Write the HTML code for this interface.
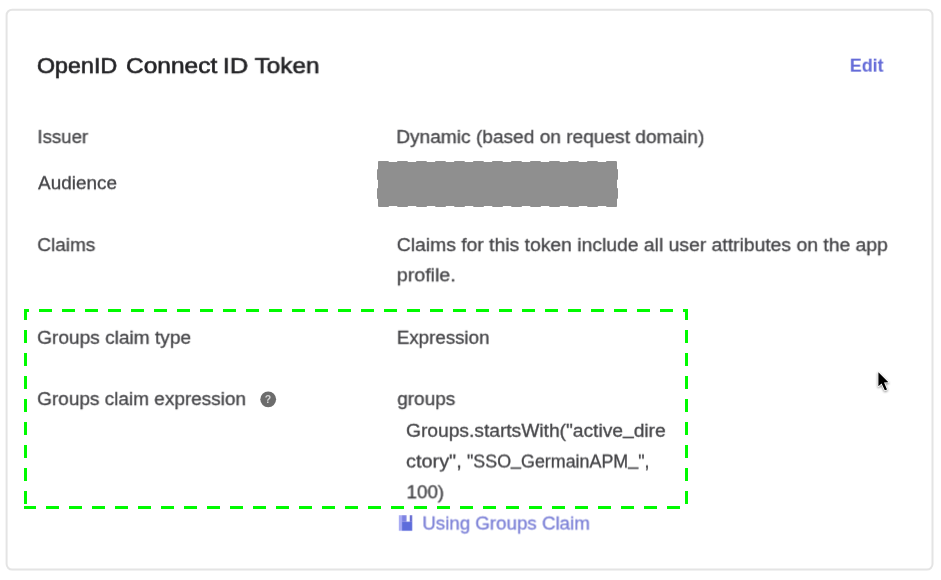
<!DOCTYPE html>
<html><head><meta charset="utf-8"><title>OpenID Connect ID Token</title>
<style>
html,body{margin:0;padding:0;}
body{width:941px;height:580px;background:#fff;overflow:hidden;position:relative;font-family:"Liberation Sans",sans-serif;color:#3a3a3d;}
.t{position:absolute;left:0;top:0;white-space:nowrap;transform-origin:0 0;font-size:17.5px;line-height:20px;}
.b{color:#464649;-webkit-text-stroke:0.3px #464649;filter:blur(0.55px);}
.title{font-size:22px;line-height:26px;color:#232326;-webkit-text-stroke:0.6px #232326;filter:blur(0.5px);}
.link{color:#7c81d7;-webkit-text-stroke:0.3px #7c81d7;filter:blur(0.65px);}
.edit{font-size:18px;font-weight:bold;color:#646bd8;filter:blur(0.5px);}
.us{position:relative;top:-3px;}
svg{position:absolute;left:0;top:0;}
</style></head><body>
<svg width="941" height="580" viewBox="0 0 941 580">
  <rect x="6.6" y="9.7" width="925.9" height="559.9" rx="5.5" ry="5.5" fill="#ffffff" stroke="#e4e4e4" stroke-width="2" style="filter:blur(0.5px)"/>
</svg>
<div class="t title" style="transform:translate(36.94px,53.17px) scaleX(1.0581) rotate(0.01deg);">OpenID</div>
<div class="t title" style="transform:translate(125.99px,53.17px) scaleX(1.1136) rotate(0.01deg);">Connect</div>
<div class="t title" style="transform:translate(222.77px,53.17px) scaleX(1.1632) rotate(0.01deg);">ID</div>
<div class="t title" style="transform:translate(254.70px,53.17px) scaleX(1.1017) rotate(0.01deg);">Token</div>
<div class="t edit" style="transform:translate(849.81px,55.66px) scaleX(0.9939) rotate(0.01deg);">Edit</div>
<div class="t b" style="transform:translate(37.43px,127.13px) scaleX(1.0660) rotate(0.01deg);">Issuer</div>
<div class="t b" style="transform:translate(396.31px,127.13px) scaleX(1.0921) rotate(0.01deg);">Dynamic (based on request domain)</div>
<div class="t b" style="transform:translate(38.00px,173.23px) scaleX(1.0822) rotate(0.01deg);">Audience</div>
<div class="t b" style="transform:translate(37.32px,235.13px) scaleX(1.0846) rotate(0.01deg);">Claims</div>
<div class="t b" style="transform:translate(396.80px,235.13px) scaleX(1.1045) rotate(0.01deg);">Claims for this token include all user attributes on the app</div>
<div class="t b" style="transform:translate(396.78px,265.33px) scaleX(1.1220) rotate(0.01deg);">profile.</div>
<div class="t b" style="transform:translate(37.21px,327.83px) scaleX(1.0914) rotate(0.01deg);">Groups claim type</div>
<div class="t b" style="transform:translate(396.83px,327.83px) scaleX(1.0694) rotate(0.01deg);">Expression</div>
<div class="t b" style="transform:translate(37.22px,389.13px) scaleX(1.0848) rotate(0.01deg);">Groups claim expression</div>
<div class="t b" style="transform:translate(397.30px,389.13px) scaleX(1.0830) rotate(0.01deg);">groups</div>
<div class="t b" style="transform:translate(406.10px,420.83px) scaleX(1.0970) rotate(0.01deg);">Groups.startsWith(&quot;active<span class=us>_</span>dire</div>
<div class="t b" style="transform:translate(406.06px,451.53px) scaleX(1.1362) rotate(0.01deg);">ctory&quot;,</div>
<div class="t b" style="transform:translate(466.98px,451.53px) scaleX(1.0210) rotate(0.01deg);">&quot;SSO<span class=us>_</span>GermainAPM<span class=us>_</span>&quot;,</div>
<div class="t b" style="transform:translate(406.53px,482.33px) scaleX(1.0727) rotate(0.01deg);">100)</div>
<div class="t link" style="transform:translate(422.33px,513.53px) scaleX(1.0697) rotate(0.01deg);">Using Groups Claim</div>
<svg width="941" height="580" viewBox="0 0 941 580">
  <!-- redacted audience value -->
  <rect x="378" y="162" width="239" height="44" fill="#8f8f8f"/>
  <rect x="377.5" y="161.5" width="240" height="45" fill="none" stroke="#8f8f8f" stroke-width="1" stroke-dasharray="10.5 8.5" stroke-dashoffset="-0.7"/>
  <!-- help icon -->
  <g style="filter:blur(0.6px)">
  <circle cx="268.2" cy="399.3" r="7.9" fill="#6c6c6c"/>
  <text x="268" y="403.1" font-family="Liberation Sans, sans-serif" font-size="10.5" font-weight="bold" text-anchor="middle" fill="#d4d4d4">?</text>
  </g>
  <!-- book icon -->
  <g style="filter:blur(0.4px)" transform="rotate(0.01)">
    <rect x="398.9" y="515.2" width="3.3" height="15.5" fill="#a9acf4"/>
    <rect x="402.1" y="521.6" width="10.2" height="9.1" fill="#5d6cdb"/>
    <rect x="402.1" y="515.2" width="4.5" height="6.6" fill="#7d82e2"/>
    <rect x="409.8" y="515.2" width="2.5" height="6.6" fill="#686dd2"/>
  </g>
  <!-- green dashed highlight -->
  <g fill="#00fa00" shape-rendering="crispEdges"><rect x="24" y="309" width="5" height="3"/><rect x="39" y="309" width="13" height="3"/><rect x="62" y="309" width="13" height="3"/><rect x="85" y="309" width="13" height="3"/><rect x="108" y="309" width="13" height="3"/><rect x="131" y="309" width="13" height="3"/><rect x="154" y="309" width="13" height="3"/><rect x="177" y="309" width="13" height="3"/><rect x="200" y="309" width="13" height="3"/><rect x="223" y="309" width="13" height="3"/><rect x="246" y="309" width="13" height="3"/><rect x="269" y="309" width="13" height="3"/><rect x="292" y="309" width="13" height="3"/><rect x="315" y="309" width="13" height="3"/><rect x="338" y="309" width="13" height="3"/><rect x="361" y="309" width="13" height="3"/><rect x="384" y="309" width="13" height="3"/><rect x="407" y="309" width="13" height="3"/><rect x="430" y="309" width="13" height="3"/><rect x="453" y="309" width="13" height="3"/><rect x="476" y="309" width="13" height="3"/><rect x="499" y="309" width="13" height="3"/><rect x="522" y="309" width="13" height="3"/><rect x="545" y="309" width="13" height="3"/><rect x="568" y="309" width="13" height="3"/><rect x="591" y="309" width="13" height="3"/><rect x="614" y="309" width="13" height="3"/><rect x="637" y="309" width="13" height="3"/><rect x="660" y="309" width="13" height="3"/><rect x="683" y="309" width="5" height="3"/><rect x="24" y="309" width="3" height="11"/><rect x="24" y="330" width="3" height="13"/><rect x="24" y="353" width="3" height="13"/><rect x="24" y="376" width="3" height="13"/><rect x="24" y="399" width="3" height="13"/><rect x="24" y="422" width="3" height="13"/><rect x="24" y="445" width="3" height="13"/><rect x="24" y="468" width="3" height="13"/><rect x="24" y="491" width="3" height="13"/><rect x="685" y="309" width="3" height="11"/><rect x="685" y="330" width="3" height="13"/><rect x="685" y="353" width="3" height="13"/><rect x="685" y="376" width="3" height="13"/><rect x="685" y="399" width="3" height="13"/><rect x="685" y="422" width="3" height="13"/><rect x="685" y="445" width="3" height="13"/><rect x="685" y="468" width="3" height="13"/><rect x="685" y="491" width="3" height="13"/><rect x="24" y="506" width="12" height="3"/><rect x="46" y="506" width="13" height="3"/><rect x="69" y="506" width="13" height="3"/><rect x="92" y="506" width="13" height="3"/><rect x="115" y="506" width="13" height="3"/><rect x="138" y="506" width="13" height="3"/><rect x="161" y="506" width="13" height="3"/><rect x="184" y="506" width="13" height="3"/><rect x="207" y="506" width="13" height="3"/><rect x="230" y="506" width="13" height="3"/><rect x="253" y="506" width="13" height="3"/><rect x="276" y="506" width="13" height="3"/><rect x="299" y="506" width="13" height="3"/><rect x="322" y="506" width="13" height="3"/><rect x="345" y="506" width="13" height="3"/><rect x="368" y="506" width="13" height="3"/><rect x="391" y="506" width="13" height="3"/><rect x="414" y="506" width="13" height="3"/><rect x="437" y="506" width="13" height="3"/><rect x="460" y="506" width="13" height="3"/><rect x="483" y="506" width="13" height="3"/><rect x="506" y="506" width="13" height="3"/><rect x="529" y="506" width="13" height="3"/><rect x="552" y="506" width="13" height="3"/><rect x="575" y="506" width="13" height="3"/><rect x="598" y="506" width="13" height="3"/><rect x="621" y="506" width="13" height="3"/><rect x="644" y="506" width="13" height="3"/><rect x="667" y="506" width="13" height="3"/></g>
  <!-- mouse cursor -->
  <g transform="translate(878.4,372.3)">
    <polygon points="0,0 0,14 3.2,11.1 6.4,18 8.6,17.1 5.6,10.3 10,10" fill="#000" stroke="#fff" stroke-width="1.6" stroke-linejoin="round" style="filter:drop-shadow(0.5px 1px 1.2px rgba(0,0,0,0.45));"/>
    <polygon points="0,0 0,14 3.2,11.1 6.4,18 8.6,17.1 5.6,10.3 10,10" fill="#000"/>
  </g>
</svg>
</body></html>
